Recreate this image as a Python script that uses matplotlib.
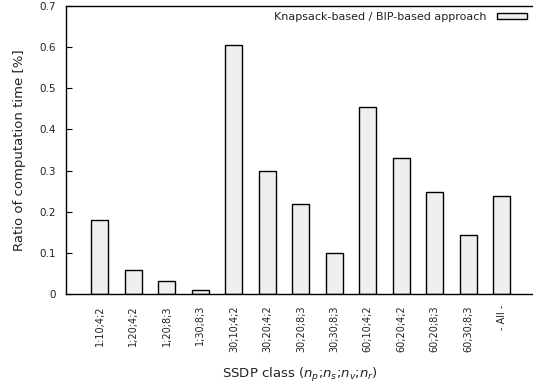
import numpy as np
import matplotlib
matplotlib.use("Agg")
import matplotlib.pyplot as plt

classes = ['1:10;4;2', '1;20;4;2', '1;20;8;3', '1;30;8;3', '30;10;4;2', '30;20;4;2',
           '30;20;8;3', '30;30;8;3', '60;10;4;2', '60;20;4;2', '60;20;8;3', '60;30;8;3', '- All -']
ratio = [0.181, 0.059, 0.031, 0.009, 0.605, 0.300, 0.219, 0.100, 0.455, 0.331, 0.248, 0.143, 0.238]
yticks = [0, 0.1, 0.2, 0.3, 0.4, 0.5, 0.6, 0.7]
ytick_labels = ['0', '0.1', '0.2', '0.3', '0.4', '0.5', '0.6', '0.7']

txt = '#222222'
fig = plt.figure(figsize=(5.33, 3.92), dpi=100)
ax = fig.add_axes([0.1238, 0.25, 0.8762, 0.7347])

x = np.arange(1, len(classes) + 1)
ax.bar(x, ratio, width=0.5, color='#efefef', edgecolor='black', linewidth=1.0,
       label='Knapsack-based / BIP-based approach')

ax.set_xlim(-0.01, 13.93)
ax.set_ylim(0, 0.7)
ax.set_yticks(yticks)
ax.set_yticklabels(ytick_labels, fontsize=7.5, color=txt)
ax.set_xticks(x)
ax.set_xticklabels(classes, rotation=90, fontsize=7, color=txt, va='top')
ax.tick_params(axis='x', length=0, pad=8)
ax.tick_params(axis='y', direction='in', length=4, width=0.8, pad=7)
ax.spines['right'].set_visible(False)
for s in ['left', 'top', 'bottom']:
    ax.spines[s].set_linewidth(1.0)

ax.set_ylabel('Ratio of computation time [%]', fontsize=9.5, color=txt, labelpad=10)
ax.set_xlabel('SSDP class ($n_p$;$n_s$;$n_v$;$n_r$)', fontsize=9.5, color=txt, labelpad=10)

ax.legend(loc='upper right', frameon=False, markerfirst=False, fontsize=8,
          handlelength=2.7, handleheight=0.4, borderaxespad=0.25, borderpad=0.3,
          handletextpad=0.9, labelcolor=txt)

fig.savefig('out.png', dpi=100)
